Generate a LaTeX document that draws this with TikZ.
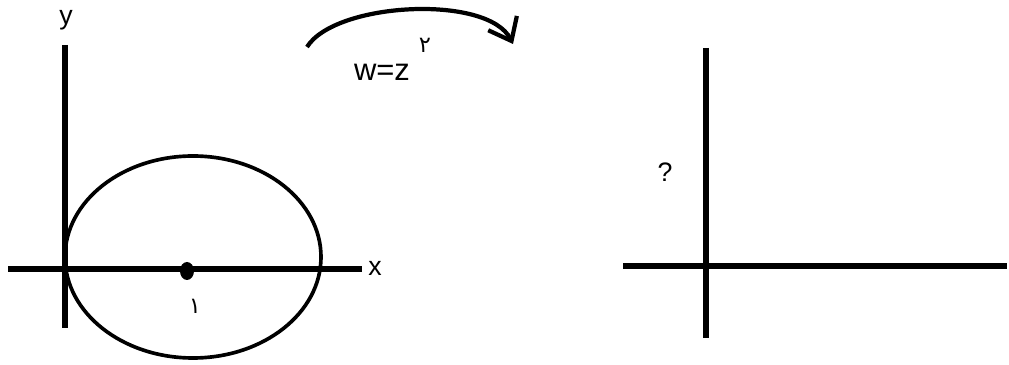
\documentclass[tikz,border=0pt]{standalone}
\usepackage{fontspec}
\setmainfont{Liberation Sans}
\newfontfamily\arabicfont[Script=Arabic]{DejaVu Sans}
\TeXXeTstate=1
\usetikzlibrary{arrows.meta}

\begin{document}
\begin{tikzpicture}[x=0.025cm, y=-0.025cm,
    axis/.style={line width=3.8pt},
    curve/.style={line width=2.6pt},
    lbl/.style={font=\fontsize{19}{23}\selectfont, inner sep=0pt},
    digit/.style={font=\arabicfont\fontsize{16}{19}\selectfont, inner sep=0pt},
    maparrow/.style={line width=3pt, -{Straight Barb[length=5mm, width=8mm, line width=3pt]}},
  ]
  \useasboundingbox (0,0) rectangle (1009,365);

  % z-plane
  \coordinate (zx0) at (8,269);   \coordinate (zx1) at (362,269);
  \coordinate (zy0) at (65,45);   \coordinate (zy1) at (65,328);
  \draw[axis] (zx0) -- (zx1);
  \draw[axis] (zy0) -- (zy1);
  \draw[curve] (193,257) ellipse [x radius=128, y radius=101];
  \fill (187,271) ellipse [x radius=7, y radius=9];
  \node[lbl] (xlab) at (375,268) {x};
  \node[lbl] (ylab) at (66,20) {y};
  \node[digit] (one) at (195,306) {\beginR ١\endR};

  % mapping
  \coordinate (mapfrom) at (307,47);
  \coordinate (mapto) at (513,44);
  \draw[maparrow] (mapfrom) .. controls (335,2) and (488,-6) .. (mapto);
  \node[lbl, font=\fontsize{22}{26}\selectfont] (map) at (382,72) {w=z};
  \node[digit] (two) at (425,45) {\beginR ٢\endR};

  % w-plane
  \coordinate (wx0) at (623,266); \coordinate (wx1) at (1007,266);
  \coordinate (wy0) at (706,48);  \coordinate (wy1) at (706,338);
  \draw[axis] (wx0) -- (wx1);
  \draw[axis] (wy0) -- (wy1);
  \node[lbl] (ask) at (665,172) {?};
\end{tikzpicture}
\end{document}
